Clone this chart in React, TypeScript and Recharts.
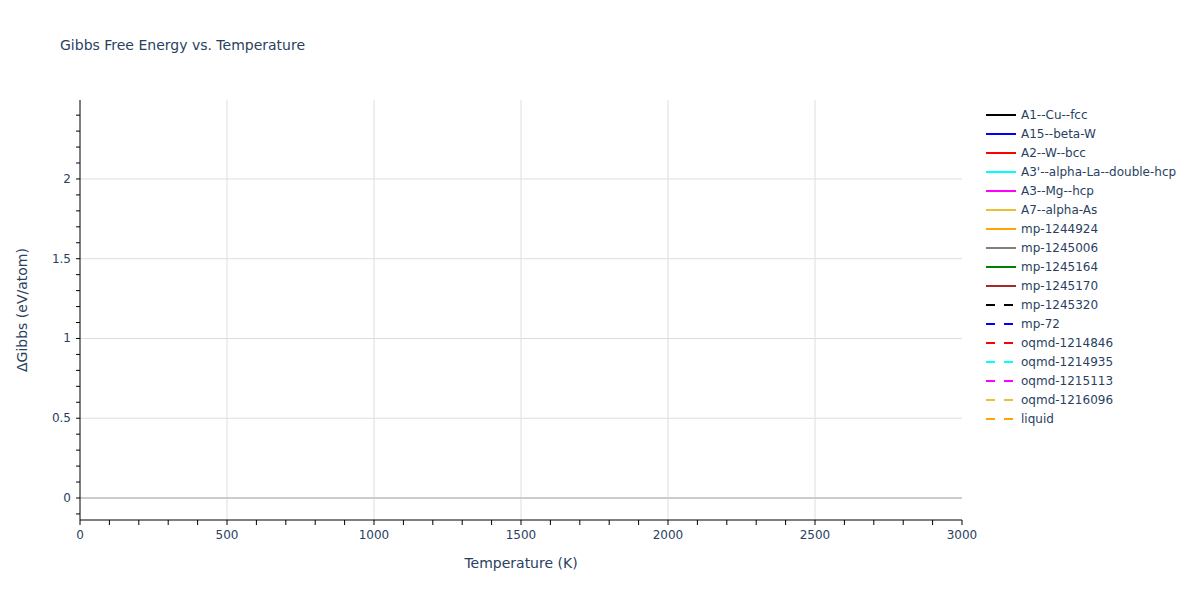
import { LineChart, Line, XAxis, YAxis, CartesianGrid, ReferenceLine } from "recharts";

// The reference plot shows no visible curves, so there are no sampled points.
const temperatures: number[] = [];

const seriesNames = [
    "A1--Cu--fcc",
    "A15--beta-W",
    "A2--W--bcc",
    "A3'--alpha-La--double-hcp",
    "A3--Mg--hcp",
    "A7--alpha-As",
    "mp-1244924",
    "mp-1245006",
    "mp-1245164",
    "mp-1245170",
    "mp-1245320",
    "mp-72",
    "oqmd-1214846",
    "oqmd-1214935",
    "oqmd-1215113",
    "oqmd-1216096",
    "liquid",
];

const seriesColors = [
    "#000000", "#0000ff", "#ff0000", "#00ffff", "#ff00ff", "#e8c136", "#ffa500",
    "#808080", "#008000", "#a52a2a",
    "#000000", "#0000ff", "#ff0000", "#00ffff", "#ff00ff", "#e8c136", "#ffa500",
];

const seriesDashed = [
    false, false, false, false, false, false, false, false, false, false,
    true, true, true, true, true, true, true,
];

const xMajorTicks = [0, 500, 1000, 1500, 2000, 2500, 3000];
const xAllTicks = [
    0, 100, 200, 300, 400, 500, 600, 700, 800, 900, 1000, 1100, 1200, 1300, 1400, 1500,
    1600, 1700, 1800, 1900, 2000, 2100, 2200, 2300, 2400, 2500, 2600, 2700, 2800, 2900, 3000,
];
const yMajorTicks = [0, 0.5, 1, 1.5, 2];
const yAllTicks = [
    -0.1, 0, 0.1, 0.2, 0.3, 0.4, 0.5, 0.6, 0.7, 0.8, 0.9, 1, 1.1, 1.2, 1.3, 1.4, 1.5,
    1.6, 1.7, 1.8, 1.9, 2, 2.1, 2.2, 2.3, 2.4,
];

const rows = temperatures.map(() => ({}));

const FONT = '"DejaVu Sans", Verdana, sans-serif';
const TEXT = "#2a3f5f";

const isMajor = (v: number, majors: number[]) =>
    majors.some((m) => Math.abs(m - v) < 1e-6);

function XTick(props: any) {
    const { x, y, payload } = props;
    if (!isMajor(payload.value, xMajorTicks)) return <g />;
    return (
        <text x={x} y={y} dy={10} textAnchor="middle" fill={TEXT} fontSize={12} fontFamily={FONT}>
            {payload.value}
        </text>
    );
}

function YTick(props: any) {
    const { x, y, payload } = props;
    if (!isMajor(payload.value, yMajorTicks)) return <g />;
    return (
        <text x={x} y={y} dy={4} textAnchor="end" fill={TEXT} fontSize={12} fontFamily={FONT}>
            {payload.value}
        </text>
    );
}

function LegendBox() {
    return (
        <div style={{ position: "absolute", left: 984, top: 105, fontFamily: FONT, fontSize: 12, color: TEXT }}>
            {seriesNames.map((name, i) => (
                <div key={name} style={{ height: 19, display: "flex", alignItems: "center" }}>
                    <svg width={36} height={19}>
                        <line
                            x1={2}
                            x2={32}
                            y1={10}
                            y2={10}
                            stroke={seriesColors[i]}
                            strokeWidth={2}
                            strokeDasharray={seriesDashed[i] ? "9 9" : undefined}
                        />
                    </svg>
                    <span style={{ marginLeft: 1, whiteSpace: "nowrap" }}>{name}</span>
                </div>
            ))}
        </div>
    );
}

export default function App() {
    return (
        <div style={{ position: "absolute", left: 0, top: 0, width: 1200, height: 600, background: "#fff" }}>
            <div
                style={{
                    position: "absolute",
                    left: 60,
                    top: 37,
                    fontFamily: FONT,
                    fontSize: 14,
                    color: TEXT,
                    whiteSpace: "nowrap",
                }}
            >
                Gibbs Free Energy vs. Temperature
            </div>
            <LineChart
                width={1200}
                height={600}
                data={rows}
                margin={{ top: 100, right: 238, bottom: 30, left: 18 }}
            >
                <CartesianGrid
                    stroke="#dedede"
                    horizontalValues={[0.5, 1, 1.5, 2]}
                    verticalValues={[500, 1000, 1500, 2000, 2500]}
                />
                <ReferenceLine y={0} stroke="#cccccc" strokeWidth={2} />
                <XAxis
                    type="number"
                    dataKey="temperature"
                    domain={[0, 3000]}
                    ticks={xAllTicks}
                    interval={0}
                    allowDataOverflow
                    height={50}
                    tickSize={5}
                    tickMargin={4}
                    stroke="#000"
                    tick={<XTick />}
                    label={{
                        value: "Temperature (K)",
                        position: "insideBottom",
                        offset: 2,
                        fill: TEXT,
                        fontSize: 14,
                        fontFamily: FONT,
                    }}
                />
                <YAxis
                    type="number"
                    domain={[-0.138, 2.495]}
                    ticks={yAllTicks}
                    interval={0}
                    allowDataOverflow
                    width={62}
                    tickSize={4}
                    tickMargin={5}
                    stroke="#000"
                    tick={<YTick />}
                    label={{
                        value: "ΔGibbs (eV/atom)",
                        position: "insideLeft",
                        angle: -90,
                        offset: 4,
                        fill: TEXT,
                        fontSize: 14,
                        fontFamily: FONT,
                        style: { textAnchor: "middle" },
                    }}
                />
                {seriesNames.map((name, i) => (
                    <Line
                        key={name}
                        dataKey={name}
                        name={name}
                        stroke={seriesColors[i]}
                        strokeWidth={2}
                        strokeDasharray={seriesDashed[i] ? "9 9" : undefined}
                        dot={false}
                        isAnimationActive={false}
                    />
                ))}
            </LineChart>
            <LegendBox />
        </div>
    );
}
